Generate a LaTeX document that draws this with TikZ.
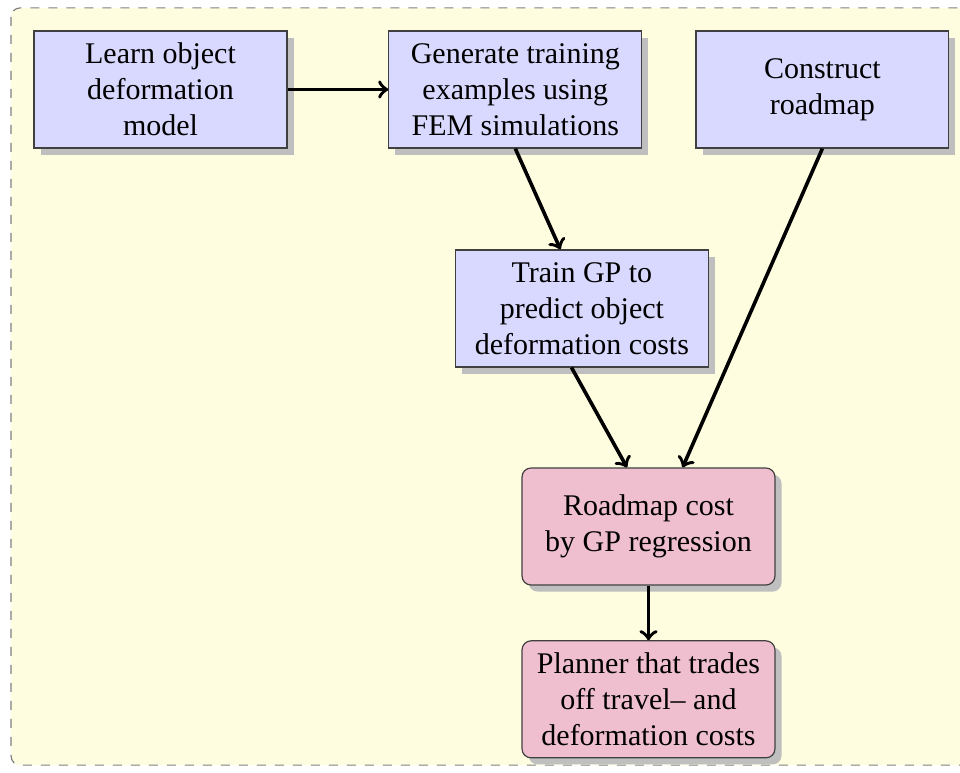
\documentclass[tikz,border=0pt]{standalone}
\usepackage{fontspec}
\setmainfont{Liberation Serif}
\usetikzlibrary{positioning, shadows}

\begin{document}
\begin{tikzpicture}[
                >=to,
                every edge/.style={draw, very thick},
                box/.style={draw=black!75, align=center, minimum width=84.3pt, minimum height=39pt, inner sep=2pt, fill=blue!15,
                            drop shadow={shadow xshift=2.2pt, shadow yshift=-2.2pt, fill=black!25, opacity=1}},
                result/.style={box, rounded corners=3pt, fill=purple!25}]

    \useasboundingbox (-53.5pt,29.83pt) rectangle (266.5pt,-227.83pt);
    \draw [gray, dashed, rounded corners=3pt, fill=yellow!12] (-49.8pt,27.2pt) rectangle (300pt,-225.2pt);

    %%% NODES
    \node [box] (learn) {Learn object\\deformation\\model};
    \node [box, right=1.18cm of learn] (generate) {Generate training\\examples using\\FEM simulations};
    \node [box, right=0.62cm of generate] (construct) {Construct\\roadmap};
    \node [box, below=1.18cm of generate, xshift=0.78cm] (train) {Train GP to\\predict object\\deformation costs};
    \node [result, below=1.17cm of train, xshift=0.78cm] (roadmapcost) {Roadmap cost\\by GP regression};
    \node [result, below=0.64cm of roadmapcost] (planner) {Planner that trades\\off travel-- and\\deformation costs};

    %%% CONNECTIONS
    \path (learn) edge [->] (generate);
    \path (generate.south) edge [->] (train.110);
    \path (construct.south) edge [->] (roadmapcost.60);
    \path (train.-100) edge [->] (roadmapcost.110);
    \path (roadmapcost) edge [->] (planner);

\end{tikzpicture}
\end{document}
